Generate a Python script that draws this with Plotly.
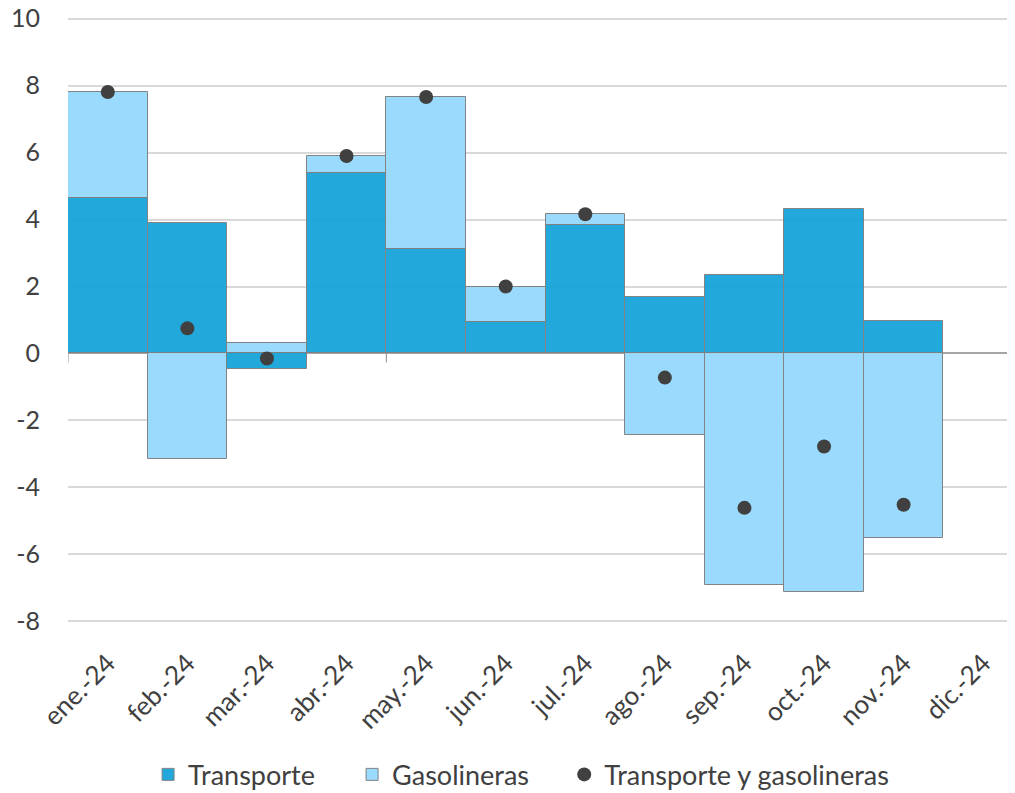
import plotly.graph_objects as go

categories = ["ene.-24", "feb.-24", "mar.-24", "abr.-24", "may.-24", "jun.-24",
              "jul.-24", "ago.-24", "sep.-24", "oct.-24", "nov.-24", "dic.-24"]
transporte = [4.64, 3.89, -0.47, 5.39, 3.11, 0.93, 3.83, 1.68, 2.33, 4.31, 0.96, None]
gasolineras = [3.17, -3.14, 0.30, 0.51, 4.55, 1.07, 0.33, -2.43, -6.92, -7.13, -5.51, None]
total = [7.81, 0.75, -0.15, 5.90, 7.66, 2.00, 4.16, -0.72, -4.61, -2.78, -4.52, None]
y_ticks = [-8, -6, -4, -2, 0, 2, 4, 6, 8, 10]
y_ticktext = ["-8", "-6", "-4", "-2", "0", "2", "4", "6", "8", "10"]
axis_tick_categories = [0, 4]  # category indices with a boundary tick mark on the zero line

FONT = "Lato"
TXT = "#404040"

fig = go.Figure()
fig.add_trace(go.Bar(
    x=categories, y=transporte, name="Transporte", legend="legend",
    marker=dict(color="#1BA6D9", line=dict(color="#7F7F7F", width=1)),
    opacity=0.97,
))
fig.add_trace(go.Bar(
    x=categories, y=gasolineras, name="Gasolineras", legend="legend2",
    marker=dict(color="#97D9FC", line=dict(color="#7F7F7F", width=1)),
    opacity=0.97,
))
fig.add_trace(go.Scatter(
    x=categories, y=total, name="Transporte y gasolineras", mode="markers",
    legend="legend3",
    marker=dict(color="#404040", size=14, line=dict(width=0)),
))

# small tick marks hanging below the zero line at category boundaries
for i in axis_tick_categories:
    fig.add_shape(type="line", xref="x", yref="y", x0=i - 0.5, x1=i - 0.5,
                  y0=0, y1=-0.27, line=dict(color="#8C8C8C", width=1))

leg_common = dict(orientation="h", xref="container", yref="container",
                  xanchor="left", yanchor="middle", y=0.033,
                  font=dict(family=FONT, size=27, color=TXT), itemwidth=30,
                  bgcolor="rgba(0,0,0,0)")

fig.update_layout(
    width=1015, height=793,
    barmode="relative", bargap=0,
    plot_bgcolor="white", paper_bgcolor="white",
    margin=dict(l=60, r=0, t=9, b=178),
    font=dict(family=FONT, size=24, color=TXT),
    showlegend=True,
    legend=dict(x=0.138, **leg_common),
    legend2=dict(x=0.339, **leg_common),
    legend3=dict(x=0.548, **leg_common),
    xaxis=dict(
        type="category", categoryorder="array", categoryarray=categories,
        range=[-0.5, 11.5], tickangle=-45, showgrid=False, showline=False,
        zeroline=False, ticks="", ticklabelstandoff=19, automargin=False,
        tickfont=dict(family=FONT, size=26, color=TXT),
    ),
    yaxis=dict(
        range=[-8.05, 10.05], tickvals=y_ticks, ticktext=y_ticktext,
        showgrid=True, gridcolor="#D9D9D9",
        gridwidth=1.5, zeroline=True, zerolinecolor="#A6A6A6", zerolinewidth=1.5,
        showline=False, ticks="", ticklabelstandoff=27, automargin=False,
        ticklabeloverflow="allow",
        tickfont=dict(family=FONT, size=25, color=TXT),
    ),
)

fig.write_html("out.html")
